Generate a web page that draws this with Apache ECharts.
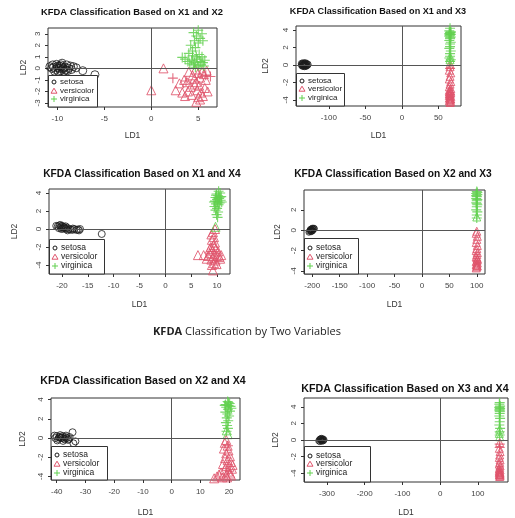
<!DOCTYPE html>
<html>
<head>
<meta charset="utf-8">
<script src="https://cdn.jsdelivr.net/npm/echarts@6/dist/echarts.min.js"></script>
<style>html,body{margin:0;background:#fff}#c{width:515px;height:518px}</style>
</head>
<body>
<div id="c"></div>
<script>
// ---- Discriminant scores (LD1, LD2) per species, one set per variable pair ----
const speciesNames = ['setosa', 'versicolor', 'virginica'];
const panelTitles = [
  'KFDA Classification Based on X1 and X2',
  'KFDA Classification Based on X1 and X3',
  'KFDA Classification Based on X1 and X4',
  'KFDA Classification Based on X2 and X3',
  'KFDA Classification Based on X2 and X4',
  'KFDA Classification Based on X3 and X4'
];
const captionText = '{b|KFDA} Classification by Two Variables';

// X1 & X2
const p1Setosa = [[-10.4,0.1],[-10.2,-0.1],[-10.0,0.2],[-9.8,0.0],[-9.6,0.15],[-9.4,-0.05],[-9.2,0.1],[-9.0,0.3],[-8.8,0.0],[-10.6,0.0],[-10.8,0.15],[-10.1,0.35],[-9.7,-0.2],[-9.3,-0.25],[-9.5,0.45],[-8.6,0.2],[-8.3,0.15],[-10.3,-0.25],[-9.9,-0.3],[-9.1,-0.15],[-8.9,-0.2],[-10.5,0.3],[-9.6,0.3],[-8.5,-0.1],[-7.3,-0.2],[-6.0,-0.55],[-10.0,0.05],[-9.4,0.05],[-9.8,0.2],[-8.0,0.05]];
const p1Versicolor = [[1.3,0.0],[0.0,-1.9],[2.6,-1.9],[3.5,-1.0],[3.8,-1.2],[3.3,-2.1],[3.9,-2.0],[4.2,-1.6],[4.4,-0.6],[4.6,-0.9],[4.8,-1.2],[5.0,-0.4],[5.2,-0.8],[5.4,-0.3],[5.6,-0.5],[5.8,-1.0],[5.1,-1.5],[4.9,-1.9],[5.3,-2.1],[5.5,-2.4],[5.0,-2.5],[5.2,-2.7],[4.8,-2.9],[4.6,-1.4],[5.7,-1.7],[6.0,-2.0],[4.0,-0.3],[4.3,-2.3],[5.9,-0.2],[4.7,-0.1],[3.0,-1.3],[3.6,-2.4]];
const p1Virginica = [[4.5,3.1],[5.0,3.3],[5.4,3.0],[4.8,2.8],[5.2,2.6],[4.6,2.4],[5.0,2.2],[5.5,2.4],[4.2,2.0],[4.7,1.8],[4.0,1.3],[4.4,1.1],[4.8,1.0],[5.1,1.2],[5.4,1.0],[3.6,0.8],[3.9,0.6],[4.3,0.7],[4.6,0.5],[4.9,0.8],[5.2,0.6],[5.5,0.5],[5.7,0.7],[4.5,0.3],[5.0,0.2],[5.3,0.3],[4.1,0.4],[4.7,0.1],[5.6,0.2],[4.4,1.5],[3.3,0.95]];
const p1VirginicaAsVersicolor = [[2.3,-0.85],[5.8,-0.6],[6.3,-0.7],[3.7,-1.1]];
const p1VersicolorAsVirginica = [];

// X1 & X3
const p2Setosa = [[-137,0.0],[-136,0.1],[-135,-0.1],[-134,0.05],[-133,0.15],[-132,-0.05],[-131,0.1],[-130,0.0],[-135,0.2],[-133,-0.15],[-136,-0.1],[-134,-0.05],[-132,0.2],[-129,0.05],[-131,-0.1],[-137,0.15],[-133,0.0],[-135,0.0]];
const p2Versicolor = [[66,0.1],[66,-0.2],[65,-0.6],[67,-0.9],[66,-1.3],[65,-1.6],[67,-1.9],[66,-2.2],[65,-2.5],[67,-2.7],[66,-2.9],[65,-3.1],[67,-3.2],[66,-3.3],[65,-3.5],[67,-3.6],[66,-3.7],[65,-3.8],[67,-3.9],[66,-4.0],[65,-4.1],[67,-4.2],[66,-4.3],[66,-3.45],[67,-3.0],[65,-2.9],[66,-3.9],[65,-3.3]];
const p2Virginica = [[66,4.2],[65,3.9],[67,3.8],[66,3.7],[65,3.6],[67,3.5],[66,3.4],[65,3.3],[67,3.2],[66,3.1],[66,3.0],[65,2.8],[67,2.6],[66,2.4],[66,2.1],[65,1.9],[67,1.6],[66,1.3],[66,1.0],[65,0.8],[67,0.6],[66,0.4],[66,3.55],[67,3.75],[65,3.45]];
const p2VirginicaAsVersicolor = [[66,-0.4]];
const p2VersicolorAsVirginica = [[66,0.6],[66,0.9]];

// X1 & X4
const p3Setosa = [[-20.8,0.3],[-20.5,0.4],[-20.2,0.2],[-20.0,0.35],[-19.7,0.25],[-19.5,0.1],[-19.2,0.0],[-19.0,0.15],[-18.7,0.0],[-18.4,-0.05],[-18.0,-0.1],[-17.6,0.0],[-17.2,-0.1],[-16.9,-0.05],[-16.7,-0.15],[-20.6,0.1],[-20.1,0.0],[-19.8,0.05],[-21.1,0.35],[-19.3,0.3],[-18.9,-0.15],[-17.9,0.05],[-20.3,0.45],[-12.3,-0.55],[-16.5,0.0],[-19.6,0.2]];
const p3Versicolor = [[9.6,0.0],[9.2,-0.35],[8.9,-0.6],[9.4,-0.9],[9.0,-1.2],[9.6,-1.5],[9.3,-1.8],[8.8,-2.0],[9.8,-2.2],[9.1,-2.4],[10.2,-2.5],[8.6,-2.7],[9.5,-2.8],[10.0,-3.0],[8.3,-3.0],[9.2,-3.2],[10.4,-3.1],[7.4,-2.9],[6.3,-2.9],[8.9,-3.4],[9.7,-3.5],[10.6,-3.3],[9.4,-3.8],[9.0,-4.0],[9.2,-4.6],[8.0,-3.3],[9.9,-3.9],[10.8,-2.9],[8.6,-2.2],[9.5,-2.0]];
const p3Virginica = [[10.3,4.2],[10.6,4.0],[9.9,3.9],[10.2,3.7],[10.8,3.6],[9.7,3.5],[10.4,3.4],[10.0,3.3],[10.7,3.2],[9.6,3.1],[10.1,3.0],[10.5,2.9],[9.8,2.8],[10.3,2.7],[9.5,2.5],[10.0,2.3],[9.7,2.1],[10.2,1.9],[9.9,1.6],[10.1,1.3],[9.8,3.75],[10.5,3.55],[9.4,3.0],[10.9,3.0]];
const p3VirginicaAsVersicolor = [];
const p3VersicolorAsVirginica = [[9.7,0.25]];

// X2 & X3
const p4Setosa = [[-206,-0.2],[-205,-0.1],[-204,0.0],[-203,-0.05],[-202,0.05],[-201,0.1],[-200,0.0],[-199,0.15],[-198,0.1],[-197,0.2],[-203,0.1],[-201,-0.1],[-199,-0.05],[-200,0.2],[-202,-0.15],[-196,0.15]];
const p4Versicolor = [[100,-0.1],[99,-0.3],[101,-0.6],[100,-0.9],[99,-1.2],[101,-1.5],[100,-1.8],[99,-2.0],[101,-2.2],[100,-2.4],[99,-2.6],[101,-2.8],[100,-3.0],[99,-3.1],[101,-3.2],[100,-3.3],[99,-3.4],[101,-3.5],[100,-3.6],[99,-3.7],[101,-2.9],[100,-2.7],[100,-3.45]];
const p4Virginica = [[100,3.8],[99,3.6],[101,3.5],[100,3.3],[99,3.1],[101,3.0],[100,2.9],[99,2.7],[101,2.5],[100,2.3],[99,2.0],[101,1.8],[100,1.5],[100,1.2],[99,3.4],[101,3.7],[100,2.6]];
const p4VirginicaAsVersicolor = [];
const p4VersicolorAsVirginica = [[100,1.3]];

// X2 & X4
const p5Setosa = [[-40.5,0.0],[-40,0.2],[-39.5,-0.1],[-39,0.1],[-38.5,0.0],[-38,0.2],[-37.5,-0.05],[-37,0.1],[-36.5,0.0],[-36,-0.2],[-39.8,-0.25],[-38.8,0.3],[-37.8,-0.3],[-40.8,0.25],[-36.8,0.25],[-35.5,0.1],[-34.5,0.6],[-33.5,-0.35],[-34.2,-0.55],[-38.2,0.05],[-39.2,0.05],[-37.2,-0.15],[-35.8,-0.1]];
const p5Versicolor = [[19.0,-0.2],[18.5,-0.5],[19.5,-0.8],[18.2,-1.1],[19.8,-1.3],[19.0,-1.6],[20.3,-1.9],[18.6,-2.1],[19.5,-2.3],[20.6,-2.5],[17.9,-2.7],[19.2,-2.9],[20.1,-3.0],[21.0,-3.2],[18.4,-3.3],[19.7,-3.5],[17.2,-3.6],[20.4,-3.7],[16.5,-3.8],[18.9,-3.9],[15.8,-4.0],[17.6,-4.1],[19.3,-4.1],[20.7,-3.9],[14.8,-4.2],[21.2,-2.8]];
const p5Virginica = [[19.5,3.8],[20.2,3.6],[18.8,3.5],[19.8,3.4],[20.5,3.3],[19.0,3.2],[19.6,3.0],[20.3,2.8],[18.7,2.7],[19.4,2.5],[20.0,2.3],[19.2,2.1],[19.7,1.8],[18.9,1.6],[19.3,1.3],[19.6,1.0],[19.1,0.7],[19.8,3.7],[18.5,3.4],[20.8,3.1]];
const p5VirginicaAsVersicolor = [[19.6,-0.8]];
const p5VersicolorAsVirginica = [[19.5,0.4],[19.2,0.8]];

// X3 & X4
const p6Setosa = [[-322,-0.1],[-320,0.05],[-318,0.1],[-316,-0.05],[-314,0.0],[-312,0.1],[-310,-0.1],[-308,0.05],[-317,0.15],[-313,-0.15],[-311,0.15],[-319,-0.2],[-315,0.2],[-309,-0.05]];
const p6Versicolor = [[158,-0.3],[157,-1.0],[159,-1.4],[158,-1.8],[157,-2.1],[159,-2.4],[158,-2.7],[157,-2.9],[159,-3.1],[158,-3.3],[157,-3.5],[159,-3.6],[158,-3.8],[157,-3.9],[159,-4.0],[158,-4.1],[157,-4.2],[159,-4.3],[158,-4.4],[158,-3.95],[157,-3.7],[159,-4.15]];
const p6Virginica = [[158,4.5],[157,4.3],[159,4.1],[158,4.0],[157,3.9],[159,3.8],[158,3.7],[157,3.6],[159,3.5],[158,3.4],[158,3.2],[157,2.9],[159,2.6],[158,2.2],[157,1.8],[159,1.4],[158,1.0],[158,0.6]];
const p6VirginicaAsVersicolor = [[158,-0.5],[158,-0.9]];
const p6VersicolorAsVirginica = [[158,1.3],[158,0.4],[157,0.8]];

// Axis ranges and tick values
const xRanges = [[-11,7],[-145,81],[-22.5,12.5],[-215,115],[-42,23.8],[-361,180]];
const yRanges = [[-3.35,3.5],[-4.7,4.46],[-5,4.45],[-4.3,3.95],[-4.375,4.17],[-5.06,5.06]];
const xTicks = [[-10,-5,0,5],[-100,-50,0,50],[-20,-15,-10,-5,0,5,10],[-200,-150,-100,-50,0,50,100],[-40,-30,-20,-10,0,10,20],[-300,-200,-100,0,100]];
const yTicks = [[-3,-2,-1,0,1,2,3],[-4,-2,0,2,4],[-4,-2,0,2,4],[-4,-2,0,2],[-4,-2,0,2,4],[-4,-2,0,2,4]];

// ---- Layout of the six panels ----
const RED = '#DF536B', GREEN = '#61D04F', BLACK = '#1a1a1a', FRAME = '#333';
const PLUS = 'path://M4.45,0H5.55V4.45H10V5.55H5.55V10H4.45V5.55H0V4.45H4.45Z';

const layout = [
  {grid:[48,28,169,79],  title:[132,12,9.4],  gapX:24, gapY:20, leg:[48,75,49,32],  rows:[7,16,24], lf:8,   cs:8, ts:9, ps:10},
  {grid:[296,26,165,80], title:[378,11,9.1],  gapX:25, gapY:26, leg:[296,73,48,33], rows:[8,16,25], lf:8,   cs:7, ts:8, ps:10},
  {grid:[49,189,181,85], title:[142,174,10.2],gapX:26, gapY:30, leg:[49,239,55,35], rows:[9,18,27], lf:8.5, cs:7, ts:9, ps:10},
  {grid:[304,190,181,84],title:[393,174,10.2],gapX:26, gapY:22, leg:[304,238,54,36],rows:[10,19,28],lf:8.5, cs:6, ts:8, ps:10},
  {grid:[51,398,189,82], title:[143,381,10.6],gapX:28, gapY:24, leg:[51,446,56,34], rows:[9,18,27], lf:8.5, cs:7, ts:9, ps:10},
  {grid:[304,398,204,84],title:[405,389,10.7],gapX:26, gapY:24, leg:[304,446,66,36],rows:[10,18,27],lf:8.5, cs:6, ts:8, ps:10}
];

const setosaSets = [p1Setosa,p2Setosa,p3Setosa,p4Setosa,p5Setosa,p6Setosa];
const versicolorSets = [p1Versicolor,p2Versicolor,p3Versicolor,p4Versicolor,p5Versicolor,p6Versicolor];
const virginicaSets = [p1Virginica,p2Virginica,p3Virginica,p4Virginica,p5Virginica,p6Virginica];
const virAsVerSets = [p1VirginicaAsVersicolor,p2VirginicaAsVersicolor,p3VirginicaAsVersicolor,p4VirginicaAsVersicolor,p5VirginicaAsVersicolor,p6VirginicaAsVersicolor];
const verAsVirSets = [p1VersicolorAsVirginica,p2VersicolorAsVirginica,p3VersicolorAsVirginica,p4VersicolorAsVirginica,p5VersicolorAsVirginica,p6VersicolorAsVirginica];

const FONT = '"Liberation Sans", Arial, sans-serif';
const grids = [], xAxes = [], yAxes = [], series = [], graphics = [];

layout.forEach((L, i) => {
  grids.push({left:L.grid[0], top:L.grid[1], width:L.grid[2], height:L.grid[3],
    show:true, borderColor:FRAME, borderWidth:1, backgroundColor:'transparent'});
  const axisCommon = (range, ticks) => ({
    type:'value', gridIndex:i, min:range[0], max:range[1],
    axisLine:{show:false, onZero:false}, splitLine:{show:false},
    axisTick:{show:true, inside:false, length:3, customValues:ticks, lineStyle:{color:FRAME}},
    nameTextStyle:{fontFamily:FONT, fontSize:8.5, color:'#333'}
  });
  xAxes.push(Object.assign(axisCommon(xRanges[i], xTicks[i]), {
    position:'bottom', name:'LD1', nameLocation:'middle', nameGap:L.gapX,
    axisLabel:{customValues:xTicks[i], margin:8, fontFamily:FONT, fontSize:8, color:'#444'}
  }));
  yAxes.push(Object.assign(axisCommon(yRanges[i], yTicks[i]), {
    position:'left', name:'LD2', nameLocation:'middle', nameGap:L.gapY,
    axisLabel:{customValues:yTicks[i], rotate:90, margin:6, fontFamily:FONT, fontSize:8, color:'#444'}
  }));

  series.push({
    type:'scatter', name:speciesNames[0], xAxisIndex:i, yAxisIndex:i, data:setosaSets[i],
    symbol:'circle', symbolSize:L.cs,
    itemStyle:{color:'transparent', borderColor:BLACK, borderWidth:1},
    markLine:{silent:true, symbol:'none', label:{show:false},
      lineStyle:{color:'#555', type:'solid', width:1},
      data:[{xAxis:0},{yAxis:0}]}
  });
  series.push({
    type:'scatter', name:speciesNames[1], xAxisIndex:i, yAxisIndex:i, data:versicolorSets[i],
    symbol:'triangle', symbolSize:L.ts,
    itemStyle:{color:'transparent', borderColor:RED, borderWidth:1, opacity:0.85}
  });
  series.push({
    type:'scatter', name:speciesNames[2], xAxisIndex:i, yAxisIndex:i, data:virginicaSets[i],
    symbol:PLUS, symbolSize:L.ps,
    itemStyle:{color:GREEN, opacity:0.85}
  });
  series.push({
    type:'scatter', name:'virginica (assigned versicolor)', xAxisIndex:i, yAxisIndex:i, data:virAsVerSets[i],
    symbol:PLUS, symbolSize:L.ps, itemStyle:{color:RED, opacity:0.85}
  });
  series.push({
    type:'scatter', name:'versicolor (assigned virginica)', xAxisIndex:i, yAxisIndex:i, data:verAsVirSets[i],
    symbol:'triangle', symbolSize:L.ts,
    itemStyle:{color:'transparent', borderColor:GREEN, borderWidth:1, opacity:0.85}
  });

  // panel title
  graphics.push({type:'text', z:50, style:{text:panelTitles[i], x:L.title[0], y:L.title[1],
    align:'center', verticalAlign:'middle', font:'bold ' + L.title[2] + 'px ' + FONT, fill:'#111'}});

  // legend box
  const [lx, ly, lw, lh] = L.leg;
  graphics.push({type:'rect', z:60, shape:{x:lx + 0.5, y:ly + 0.5, width:lw, height:lh - 0.5},
    style:{fill:'#fff', stroke:FRAME, lineWidth:1}});
  const sx = lx + 6, tx = lx + 12;
  const r0 = ly + L.rows[0], r1 = ly + L.rows[1], r2 = ly + L.rows[2];
  graphics.push({type:'circle', z:61, shape:{cx:sx, cy:r0, r:2}, style:{fill:'none', stroke:BLACK, lineWidth:1}});
  graphics.push({type:'polygon', z:61, shape:{points:[[sx, r1 - 2.8],[sx + 3, r1 + 2.2],[sx - 3, r1 + 2.2]]},
    style:{fill:'none', stroke:RED, lineWidth:1}});
  graphics.push({type:'line', z:61, shape:{x1:sx - 3, y1:r2, x2:sx + 3, y2:r2}, style:{stroke:GREEN, lineWidth:1}});
  graphics.push({type:'line', z:61, shape:{x1:sx, y1:r2 - 3, x2:sx, y2:r2 + 3}, style:{stroke:GREEN, lineWidth:1}});
  [r0, r1, r2].forEach((ry, k) => {
    graphics.push({type:'text', z:61, style:{text:speciesNames[k], x:tx, y:ry, verticalAlign:'middle',
      font:L.lf + 'px ' + FONT, fill:'#222'}});
  });
});

// caption between the two rows of panels
graphics.push({type:'text', z:50, style:{text:captionText, x:247, y:332, align:'center', verticalAlign:'middle',
  font:'11px "Open Sans", sans-serif', fill:'#222',
  rich:{b:{fontWeight:'bold', fontSize:11, fontFamily:'"Open Sans", sans-serif', fill:'#222'}}}});

const chart = echarts.init(document.getElementById('c'), null, {renderer:'canvas'});
chart.setOption({
  animation:false,
  backgroundColor:'#fff',
  grid:grids, xAxis:xAxes, yAxis:yAxes, series:series, graphic:graphics
});
</script>
</body>
</html>
